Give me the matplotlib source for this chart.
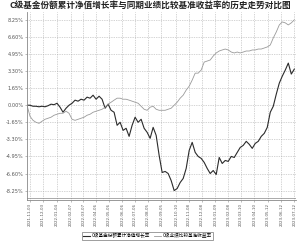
import matplotlib
matplotlib.use("Agg")
import matplotlib.pyplot as plt
import numpy as np
import pandas as pd

plt.rcParams['font.family'] = ['Noto Sans CJK SC', 'DejaVu Sans']

title = "C级基金份额累计净值增长率与同期业绩比较基准收益率的历史走势对比图"
legend_labels = ["C级基金份额累计净值增长率", "C级业绩比较基准收益率"]

# weekly observations
dates = pd.date_range("2021-10-27", periods=90, freq="7D")

fund = [0.00, 0.00, -0.10, -0.10, -0.15, -0.10, -0.15, -0.05, 0.10, 0.05,
        0.19, -0.19, -0.68, -0.29, 0.00, 0.19, 0.49, 0.39, 0.58, 0.49,
        0.78, 0.68, 0.97, 0.58, 0.87, 0.58, -0.29, 0.10, -0.49, -0.68,
        -1.94, -1.65, -2.43, -2.23, -3.01, -1.94, -1.16, -1.65, -1.36, -2.23,
        -2.62, -3.20, -2.14, -2.91, -4.85, -6.50, -6.40, -6.60, -7.28, -8.25,
        -8.05, -7.47, -7.08, -6.11, -4.37, -3.59, -4.56, -4.95, -5.14, -5.53,
        -6.11, -6.60, -6.31, -6.70, -5.05, -5.63, -5.34, -5.43, -4.95, -5.05,
        -4.56, -4.08, -3.88, -3.49, -3.78, -4.17, -3.69, -3.49, -3.01, -2.72,
        -2.14, -0.68, -0.10, 1.07, 2.13, 2.81, 3.40, 4.07, 3.01, 3.49]

bench = [0.00, -1.07, -1.46, -1.65, -1.75, -1.55, -1.36, -1.26, -1.16, -0.97,
         -0.87, -0.78, -0.78, -0.58, -0.78, -1.36, -1.46, -1.36, -1.26, -1.16,
         -0.97, -0.87, -0.68, -0.58, -0.49, -0.39, -0.19, 0.10, 0.29, 0.49,
         0.68, 0.68, 0.58, 0.58, 0.49, 0.39, 0.29, 0.19, -0.10, -0.39,
         -0.49, -0.19, -0.10, -0.39, -0.49, -0.49, -0.49, -0.39, -0.29, 0.00,
         0.29, 0.68, 0.97, 1.46, 1.84, 2.43, 3.10, 3.10, 3.40, 4.17,
         4.27, 4.37, 4.75, 5.05, 5.24, 5.34, 5.43, 5.34, 5.14, 5.05,
         5.14, 5.05, 5.14, 5.24, 5.24, 5.34, 5.34, 5.43, 5.43, 5.53,
         5.63, 5.82, 6.50, 7.08, 7.76, 8.05, 7.96, 7.76, 7.96, 8.25]

y_ticks = [8.25, 6.60, 4.95, 3.30, 1.65, 0.00, -1.65, -3.30, -4.95, -6.60, -8.25]

tick_dates = ["2021-11-03", "2021-12-03", "2022-01-04", "2022-02-07", "2022-03-07",
              "2022-04-06", "2022-05-06", "2022-06-06", "2022-07-06", "2022-08-05",
              "2022-09-05", "2022-10-10", "2022-11-08", "2022-12-08", "2023-01-09",
              "2023-02-08", "2023-03-10", "2023-04-10", "2023-05-12", "2023-06-12",
              "2023-07-12"]

fig = plt.figure(figsize=(3.0, 2.42), dpi=100)
ax = fig.add_axes([0.09, 0.174, 0.895, 0.776])

l1, = ax.plot(dates, fund, color="#2b2b2b", lw=0.8)
l2, = ax.plot(dates, bench, color="#9a9a9a", lw=0.6)

ax.set_ylim(-9.15, 9.0)
ax.set_xlim(dates[0], dates[0] + pd.Timedelta(days=7 * 89.4))
ax.set_yticks(y_ticks)
ax.set_yticklabels([f"{v:.2f}%" for v in y_ticks], fontsize=3.6, color="#555555",
                   family="DejaVu Sans")
tds = pd.to_datetime(tick_dates)
ax.set_xticks(tds)
ax.set_xticklabels(tick_dates, rotation=90, fontsize=2.9, color="#555555",
                   family="DejaVu Sans")
ax.tick_params(axis="both", length=1.5, width=0.4, pad=1, color="#888888")

ax.grid(True, linestyle=(0, (1, 1.5)), color="#aaaaaa", lw=0.5)
for s in ["top", "right"]:
    ax.spines[s].set_visible(False)
ax.spines["left"].set_color("#888888")
ax.spines["left"].set_linewidth(0.6)
ax.spines["bottom"].set_color("#888888")
ax.spines["bottom"].set_linewidth(0.6)
ax.axhline(-9.0, color="#888888", lw=0.5)

fig.suptitle(title, x=0.5, y=0.995, fontsize=6.2, fontweight="bold", color="#222222")

leg = fig.legend([l1, l2], legend_labels, loc="lower left", bbox_to_anchor=(0.265, 0.0),
                 ncol=2, fontsize=3.3, frameon=True, fancybox=False, handlelength=1.6,
                 handletextpad=0.3, columnspacing=0.8, borderpad=0.25)
leg.get_frame().set_edgecolor("#555555")
leg.get_frame().set_linewidth(0.5)

fig.savefig("out.png", dpi=100)
